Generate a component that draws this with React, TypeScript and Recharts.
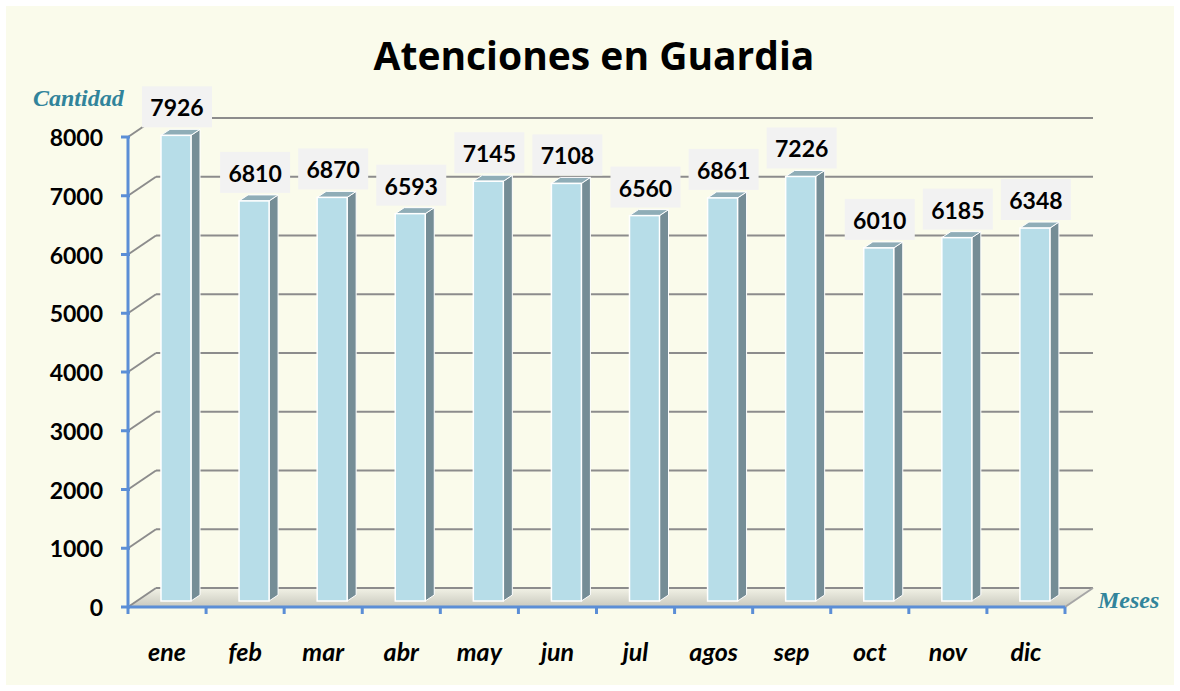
import { Bar, BarChart, CartesianGrid, LabelList, XAxis, YAxis } from 'recharts';

const months = ['ene', 'feb', 'mar', 'abr', 'may', 'jun', 'jul', 'agos', 'sep', 'oct', 'nov', 'dic'];
const attentions = [7926, 6810, 6870, 6593, 7145, 7108, 6560, 6861, 7226, 6010, 6185, 6348];
const yTicks = [0, 1000, 2000, 3000, 4000, 5000, 6000, 7000, 8000];

const data = months.map((m, i) => ({ month: m, value: attentions[i] }));

const BLUE = '#5B8ED6';
const TEAL = '#31849B';
const FONT = 'Lato, "Open Sans", sans-serif';
const DEPTH_X = 28;
const DEPTH_Y = -19;
const PLOT_LEFT = 128;
const PLOT_RIGHT = 1065;
const PLOT_BOTTOM = 607;
const BAND = (PLOT_RIGHT - PLOT_LEFT) / months.length;

function GridLine(p: any) {
    const { x1, x2, y1 } = p;
    if (Math.abs(y1 - PLOT_BOTTOM) < 1) {
        return (
            <g key={p.key}>
                <polygon
                    points={`${x1},${y1} ${x2},${y1} ${x2 + DEPTH_X},${y1 + DEPTH_Y} ${x1 + DEPTH_X},${y1 + DEPTH_Y}`}
                    fill="url(#floorGrad)"
                />
                <line x1={x1 + DEPTH_X} y1={y1 + DEPTH_Y} x2={x2 + DEPTH_X} y2={y1 + DEPTH_Y} stroke="#8C8C8C" strokeWidth={2} />
                <line x1={x1} y1={y1} x2={x1 + DEPTH_X} y2={y1 + DEPTH_Y} stroke="#8C8C8C" strokeWidth={2} />
                <line x1={x2} y1={y1} x2={x2 + DEPTH_X} y2={y1 + DEPTH_Y} stroke="#A6A6A6" strokeWidth={2} />
            </g>
        );
    }
    return (
        <g key={p.key}>
            <line x1={x1} y1={y1} x2={x1 + DEPTH_X} y2={y1 + DEPTH_Y} stroke="#8C8C8C" strokeWidth={2} />
            <line x1={x1 + DEPTH_X} y1={y1 + DEPTH_Y} x2={x2 + DEPTH_X} y2={y1 + DEPTH_Y} stroke="#8C8C8C" strokeWidth={2} />
        </g>
    );
}

function Bar3D(p: any) {
    const { x, y, width, height } = p;
    const fx = x + 9;
    const fy = y - 6;
    const bottom = fy + height;
    const d = 9;
    const dy = -6;
    return (
        <g>
            <polygon
                points={`${fx + width},${fy} ${fx + width + d},${fy + dy} ${fx + width + d},${bottom + dy} ${fx + width},${bottom}`}
                fill="#758D96"
                stroke="#ffffff"
                strokeWidth={1}
            />
            <polygon
                points={`${fx},${fy} ${fx + d},${fy + dy} ${fx + width + d},${fy + dy} ${fx + width},${fy}`}
                fill="#8FADB7"
                stroke="#ffffff"
                strokeWidth={1}
            />
            <rect x={fx} y={fy} width={width} height={height} fill="#B7DDE8" stroke="#ffffff" strokeWidth={1.5} />
        </g>
    );
}

function ValueLabel(p: any) {
    const { x, y, width, value } = p;
    const cx = x + 9 + width / 2 + 1;
    const top = y - 55;
    return (
        <g>
            <rect x={cx - 35} y={top} width={70} height={41} fill="#F2F2F2" />
            <text x={cx} y={top + 21} textAnchor="middle" dominantBaseline="central" fontFamily={FONT} fontWeight={700} fontSize={23} fill="#000">
                {value}
            </text>
        </g>
    );
}

function YTick(p: any) {
    const { y, payload } = p;
    return (
        <g>
            <line x1={121} x2={130} y1={y} y2={y} stroke={BLUE} strokeWidth={3} />
            <text x={103} y={y} textAnchor="end" dominantBaseline="central" fontFamily={FONT} fontWeight={700} fontSize={23} fill="#000">
                {payload.value}
            </text>
        </g>
    );
}

function XTick(p: any) {
    const { x, payload, index } = p;
    const left = x - BAND / 2;
    return (
        <g>
            <line x1={left} x2={left} y1={PLOT_BOTTOM} y2={PLOT_BOTTOM + 7} stroke={BLUE} strokeWidth={3} />
            {index === months.length - 1 && (
                <line x1={x + BAND / 2} x2={x + BAND / 2} y1={PLOT_BOTTOM} y2={PLOT_BOTTOM + 7} stroke={BLUE} strokeWidth={3} />
            )}
            <text x={x} y={651} textAnchor="middle" dominantBaseline="central" fontFamily={FONT} fontWeight={700} fontStyle="italic" fontSize={25} fill="#000">
                {payload.value}
            </text>
        </g>
    );
}

export default function App() {
    return (
        <div style={{ position: 'absolute', left: 0, top: 0, width: 1180, height: 691, background: '#ffffff' }}>
            <div style={{ position: 'absolute', left: 6, top: 6, width: 1168, height: 679, background: '#FAFBEB' }} />
            <div style={{ position: 'absolute', left: 0, top: 0 }}>
                <BarChart width={1180} height={691} data={data} margin={{ top: 137, right: 115, bottom: 44, left: 0 }} barSize={30}>
                    <defs>
                        <linearGradient id="floorGrad" x1="0" y1="0" x2="0" y2="1">
                            <stop offset="0%" stopColor="#F2F2E6" />
                            <stop offset="100%" stopColor="#C9C9BE" />
                        </linearGradient>
                    </defs>
                    <CartesianGrid vertical={false} horizontal={GridLine} />
                    <XAxis dataKey="month" height={40} axisLine={{ stroke: BLUE, strokeWidth: 3 }} tickLine={false} tick={XTick} interval={0} />
                    <YAxis width={128} domain={[0, 8000]} ticks={yTicks} axisLine={{ stroke: BLUE, strokeWidth: 3 }} tickLine={false} tick={YTick} interval={0} />
                    <Bar dataKey="value" shape={Bar3D} isAnimationActive={false}>
                        <LabelList dataKey="value" content={ValueLabel} />
                    </Bar>
                </BarChart>
            </div>
            <svg width={1180} height={691} style={{ position: 'absolute', left: 0, top: 0, pointerEvents: 'none' }}>
                <text x={594} y={70} textAnchor="middle" fontFamily='"Open Sans", sans-serif' fontWeight={700} fontSize={39} fill="#000">
                    Atenciones en Guardia
                </text>
                <text x={33} y={106} fontFamily='"Liberation Serif", serif' fontWeight={700} fontStyle="italic" fontSize={24} fill={TEAL}>
                    Cantidad
                </text>
                <text x={1098} y={608} fontFamily='"Liberation Serif", serif' fontWeight={700} fontStyle="italic" fontSize={24} fill={TEAL}>
                    Meses
                </text>
            </svg>
        </div>
    );
}
